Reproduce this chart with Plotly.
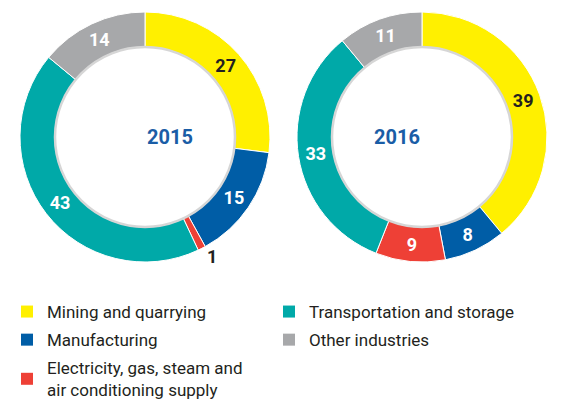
import plotly.graph_objects as go

categories = ["Mining and quarrying", "Manufacturing",
              "Electricity, gas, steam and air conditioning supply",
              "Transportation and storage", "Other industries"]
legend_labels = ["Mining and quarrying", "Manufacturing",
                 "Electricity, gas, steam and<br>air conditioning supply",
                 "Transportation and storage", "Other industries"]
values_2015 = [27, 15, 1, 43, 14]
values_2016 = [39, 8, 9, 33, 11]
years = ["2015", "2016"]

colors = ["#FFF000", "#005DA6", "#EE4036", "#00A9A8", "#A7A8AA"]
text_colors = ["#231F20", "white", "white", "white", "white"]
FONT = "Roboto, Liberation Sans, sans-serif"

W, H = 580, 404
centers = [(145, 137), (422, 137)]
R = 125
HOLE = 0.72

fig = go.Figure()
for (cx, cy), vals, yr in zip(centers, [values_2015, values_2016], years):
    positions = ["outside" if v < 3 else "inside" for v in vals]
    fig.add_trace(go.Pie(
        labels=categories, values=vals, sort=False, direction="clockwise",
        rotation=0, hole=HOLE, showlegend=False,
        marker=dict(colors=colors, line=dict(color="white", width=1)),
        texttemplate="<b>%{value}</b>", textposition=positions,
        insidetextorientation="horizontal",
        insidetextfont=dict(family=FONT, size=18, color=text_colors),
        outsidetextfont=dict(family=FONT, size=18, color="#231F20"),
        hoverinfo="skip",
        domain=dict(x=[(cx - R) / W, (cx + R) / W],
                    y=[1 - (cy + R) / H, 1 - (cy - R) / H]),
    ))
    fig.add_annotation(x=cx / W, y=1 - cy / H, xref="paper", yref="paper",
                       text="<b>%s</b>" % yr, showarrow=False,
                       font=dict(family=FONT, size=20, color="#1A5DA6"))
    r_in = R * HOLE
    fig.add_shape(type="circle", xref="paper", yref="paper",
                  x0=(cx - r_in) / W, x1=(cx + r_in) / W,
                  y0=1 - (cy + r_in) / H, y1=1 - (cy - r_in) / H,
                  line=dict(color="#D6D6D6", width=2.5), layer="above")

legend_of = ["legend", "legend", "legend", "legend2", "legend2"]
for i, (lab, col) in enumerate(zip(legend_labels, colors)):
    fig.add_trace(go.Scatter(
        x=[None], y=[None], mode="markers", name=lab,
        marker=dict(symbol="square", size=11, color=col),
        legend=legend_of[i], legendgroup=str(i), showlegend=True,
        hoverinfo="skip"))

leg_common = dict(orientation="v", xanchor="left", yanchor="top",
                  font=dict(family=FONT, size=17, color="#231F20"),
                  bgcolor="rgba(0,0,0,0)", tracegroupgap=3,
                  itemsizing="constant", itemwidth=30)
fig.update_layout(
    width=W, height=H, margin=dict(l=0, r=0, t=0, b=0, autoexpand=False),
    paper_bgcolor="white", plot_bgcolor="white", hovermode=False,
    xaxis=dict(visible=False), yaxis=dict(visible=False),
    legend=dict(x=7 / W, y=1 - 294 / H, **leg_common),
    legend2=dict(x=269 / W, y=1 - 294 / H, **leg_common),
)
fig.write_html("out.html",
               config={"displayModeBar": False, "staticPlot": True},
               post_script="document.body.style.margin='0';"
                           "document.body.style.overflow='hidden';")
